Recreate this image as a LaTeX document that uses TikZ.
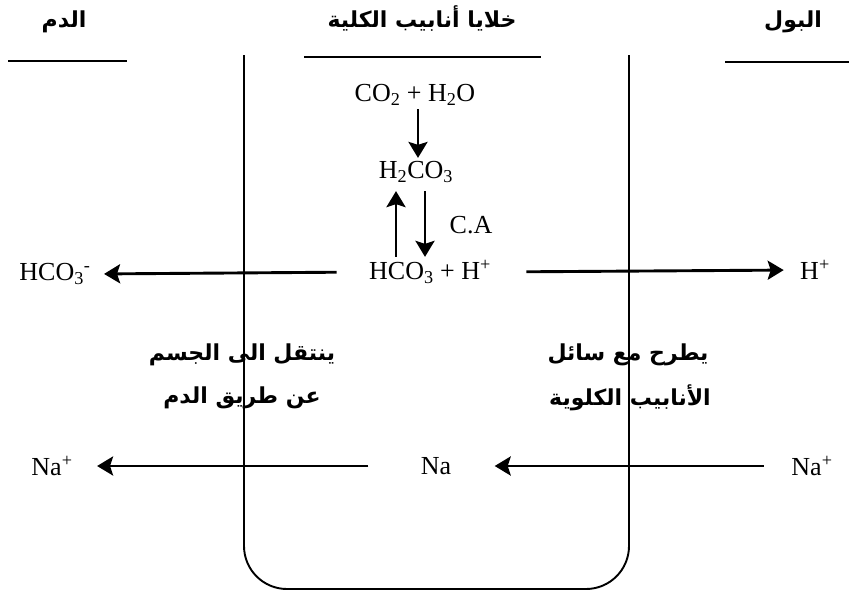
\documentclass[tikz,border=0pt]{standalone}
\usepackage{fontspec}
\setmainfont{Liberation Serif}
\newfontfamily\arabicfont[Script=Arabic]{DejaVu Sans}
\TeXXeTstate=1
\usetikzlibrary{arrows.meta}
\newcommand{\arab}[1]{{\arabicfont\bfseries\fontsize{22}{26}\selectfont\beginR #1\endR}}

\begin{document}
\begin{tikzpicture}[x=1pt,y=-1pt,
    every node/.style={font=\fontsize{26}{30}\selectfont},
    arr/.style={-{Stealth[length=16pt,width=19pt,inset=3pt]},line width=2.9pt},
    wall/.style={line width=1.9pt}]
  \useasboundingbox (0,0) rectangle (849,595);
  % Headings
  \node (blood) at (64,22) {\arab{الدم}};
  \node (cells) at (422,18) {\arab{خلايا أنابيب الكلية}};
  \node (urine) at (793,22) {\arab{البول}};
  \draw[wall] (8,61) -- (127,61);
  \draw[wall] (304,57) -- (541,57);
  \draw[wall] (725,62) -- (849,62);
  % Tubule walls
  \draw[wall,rounded corners=43pt] (244,55) -- (244,589) -- (629,589) -- (629,55);
  % Reaction
  \node (co2) at (415,95) {CO\textsubscript{2} + H\textsubscript{2}O};
  \node (h2co3) at (416,172) {H\textsubscript{2}CO\textsubscript{3}};
  \node (hco3) at (430,272) {HCO\textsubscript{3} + H\textsuperscript{+}};
  \node (ca) at (471,225) {C.A};
  \draw[arr] (co2.south -| 418,0) -- (h2co3.north -| 418,0);
  \draw[arr,shorten >=5pt] (hco3.north -| 396,0) -- (h2co3.south -| 396,0);
  \draw[arr,shorten <=5pt] (h2co3.south -| 425,0) -- (hco3.north -| 425,0);
  % Ions leaving the cell
  \node (hcom) at (55,274) {HCO\textsubscript{3}\textsuperscript{-}};
  \node (hplus) at (815,270) {H\textsuperscript{+}};
  \draw[arr,shorten <=29pt,shorten >=10pt] (hco3.west) -- (hcom.east);
  \draw[arr,shorten <=32pt,shorten >=13pt] (hco3.east) -- (hplus.west);
  % Notes
  \node (toblood1) at (242,355) {\arab{ينتقل الى الجسم}};
  \node (toblood2) at (242,398) {\arab{عن طريق الدم}};
  \node (tourine1) at (628,355) {\arab{يطرح مع سائل}};
  \node (tourine2) at (630,398) {\arab{الأنابيب الكلوية}};
  % Sodium
  \node (naout) at (52,466) {Na\textsuperscript{+}};
  \node (na) at (436,466) {Na};
  \node (nain) at (812,466) {Na\textsuperscript{+}};
  \draw[arr,shorten <=49pt,shorten >=21pt] (na.west) -- (naout.east);
  \draw[arr,shorten <=24pt,shorten >=40pt] (nain.west) -- (na.east);
\end{tikzpicture}
\end{document}
